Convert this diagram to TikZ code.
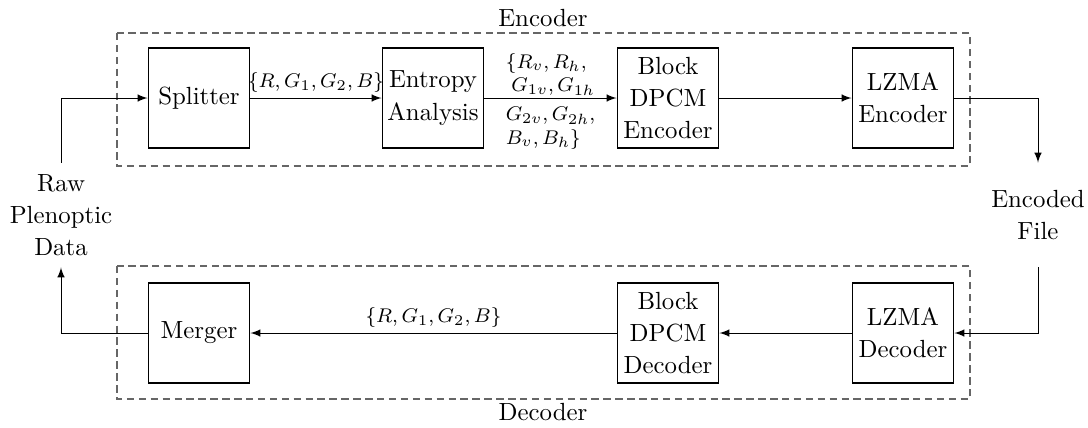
\documentclass[tikz,border=0pt]{standalone}
\usetikzlibrary{arrows}
\begin{document}
\begin{tikzpicture}[x=0.403pt,y=-0.403pt,
  every node/.style={font=\fontsize{10}{13}\selectfont},
  blockbox/.style={draw, line width=0.8pt, minimum width=40.7pt, minimum height=40.3pt,
    align=center, inner sep=1pt},
  endpoint/.style={align=center, minimum height=41.9pt, inner sep=1pt},
  groupbox/.style={draw=black!60, dash pattern=on 3pt off 1.8pt, line width=0.5pt},
  flow/.style={-latex, line width=0.4pt},
  lbl/.style={font=\footnotesize, inner sep=2pt}]
\useasboundingbox (0,0) rectangle (1088,427);

% encoder and decoder groups
\draw[groupbox] (117,33) rectangle (970,166);
\draw[groupbox] (117,266) rectangle (970,399);
\node (enclabel) at (543,18) {Encoder};
\node (declabel) at (543,412) {Decoder};

% processing blocks
\node[blockbox] (split)   at (199,98)  {Splitter};
\node[blockbox] (entropy) at (433,98)  {Entropy\\Analysis};
\node[blockbox] (bdenc)   at (668,98)  {Block\\DPCM\\Encoder};
\node[blockbox] (lzenc)   at (903,98)  {LZMA\\Encoder};
\node[blockbox] (merge)   at (199,333) {Merger};
\node[blockbox] (bddec)   at (668,333) {Block\\DPCM\\Decoder};
\node[blockbox] (lzdec)   at (903,333) {LZMA\\Decoder};

% data at both ends
\node[endpoint] (raw)  at (61,215)   {Raw\\Plenoptic\\Data};
\node[endpoint] (file) at (1038,215) {Encoded\\File};

% encoding path
\draw[flow] (raw.north) |- (split.west);
\draw[flow] (split) -- node[lbl, above] {$\{R,G_1,G_2,B\}$} (entropy);
\draw[flow] (entropy) --
  node[lbl, above, align=left, inner ysep=0.8pt] {$\{R_v,R_h,$\\\;$G_{1v},G_{1h}$}
  node[lbl, below, align=left, inner ysep=3.5pt] {$G_{2v},G_{2h},$\\$B_v,B_h\}$} (bdenc);
\draw[flow] (bdenc) -- (lzenc);
\draw[flow] (lzenc.east) -| (file.north);

% decoding path
\draw[flow] (file.south) |- (lzdec.east);
\draw[flow] (lzdec) -- (bddec);
\draw[flow] (bddec) -- node[lbl, above] {$\{R,G_1,G_2,B\}$} (merge);
\draw[flow] (merge.west) -| (raw.south);
\end{tikzpicture}
\end{document}
